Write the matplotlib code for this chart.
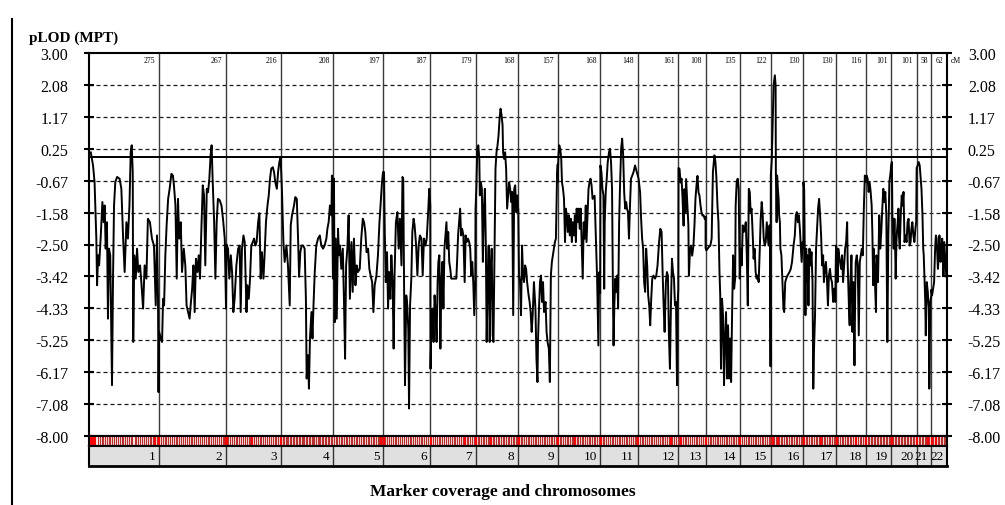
import numpy as np
import matplotlib.pyplot as plt
from matplotlib.lines import Line2D

plt.rcParams['font.family'] = ['Liberation Serif', 'DejaVu Serif']

# Chromosomes and their genetic lengths (cM)
chrom_names = [str(i) for i in range(1, 23)]
chrom_cm = [275, 267, 216, 208, 197, 187, 179, 168, 157, 168, 148,
            161, 108, 135, 122, 130, 130, 116, 101, 101, 58, 62]

# Multipoint LOD scan: position within chromosome (cM) and pLOD
pos_1 = [0, 7, 16, 22, 29, 32, 36, 40, 46, 53, 58, 62, 66, 71, 75, 79, 84, 91, 95, 99,
         104, 111, 121, 128, 135, 141, 148, 154, 160, 165, 169, 173, 175, 179, 185, 190,
         195, 202, 207, 214, 220, 227, 233, 241, 249, 257, 264, 269, 273, 275]
lod_1 = [0.11, 0.15, -0.23, -0.71, -2.33, -3.67, -2.81, -3.10, -2.33, -1.28, -1.86, -1.38,
         -2.62, -1.86, -4.63, -2.62, -2.81, -6.54, -3.48, -1.38, -0.71, -0.56, -0.61, -0.90,
         -2.33, -3.29, -1.86, -2.33, -1.38, 0.15, 0.35, -0.42, -5.30, -2.81, -3.48, -2.62,
         -3.29, -3.10, -3.58, -4.34, -3.10, -3.48, -1.76, -1.86, -2.33, -2.53, -4.25, -2.24,
         -4.06, -6.74]

pos_2 = [2, 9, 14, 18, 22, 27, 32, 38, 44, 51, 57, 61, 67, 72, 77, 82, 88, 93, 100, 106,
         111, 117, 123, 127, 133, 138, 143, 148, 154, 159, 164, 170, 175, 180, 185, 191,
         196, 201, 206, 210, 214, 220, 225, 230, 235, 242, 249, 255, 262, 267]
lod_2 = [-5.00, -5.20, -5.30, -4.06, -4.25, -2.81, -1.95, -1.19, -0.90, -0.47, -0.52, -0.80,
         -1.38, -3.48, -1.19, -2.33, -1.86, -3.29, -2.62, -3.10, -4.25, -4.44, -4.63, -4.25,
         -3.77, -3.10, -4.44, -2.91, -3.29, -2.81, -3.48, -1.95, -0.80, -1.09, -3.10, -0.90,
         -1.00, -0.61, 0.06, 0.35, -0.61, -1.86, -3.48, -1.86, -1.19, -1.23, -1.38, -1.76,
         -2.33, -4.34]

pos_3 = [2, 8, 13, 19, 24, 29, 34, 41, 48, 54, 58, 63, 69, 74, 81, 84, 90, 95, 100, 106,
         111, 116, 121, 127, 132, 137, 142, 148, 153, 158, 164, 169, 174, 179, 185, 190,
         195, 201, 206, 211, 216]
lod_3 = [-2.50, -2.62, -3.48, -2.81, -3.29, -4.44, -4.06, -3.10, -2.62, -2.53, -4.44, -2.62,
         -2.24, -2.43, -4.44, -3.67, -4.06, -3.48, -2.53, -2.43, -2.33, -2.53, -2.43, -1.86,
         -1.60, -3.48, -2.72, -3.48, -2.72, -1.86, -1.38, -1.09, -0.61, -0.32, -0.28, -0.42,
         -0.71, -0.90, -0.42, -0.13, 0.01]

pos_4 = [0, 5, 11, 16, 23, 29, 36, 40, 45, 53, 58, 64, 69, 73, 78, 83, 89, 95, 100, 103,
         108, 112, 116, 122, 126, 130, 135, 141, 148, 155, 161, 168, 174, 181, 185, 190,
         195, 201, 203, 207]
lod_4 = [0.00, -0.90, -2.43, -3.00, -2.53, -3.10, -4.25, -1.95, -1.66, -1.38, -1.14, -1.19,
         -2.33, -3.43, -2.72, -2.53, -2.53, -2.62, -4.06, -6.35, -5.68, -6.64, -5.20, -4.44,
         -5.20, -4.25, -3.29, -2.53, -2.33, -2.24, -2.53, -2.62, -2.53, -2.33, -2.05, -1.86,
         -1.38, -1.66, -0.52, -3.48]

pos_5 = [3, 6, 10, 14, 19, 23, 27, 32, 38, 43, 47, 51, 56, 61, 66, 72, 77, 82, 88, 93,
         98, 105, 111, 117, 122, 127, 132, 138, 143, 148, 154, 159, 164, 171, 177, 183,
         188, 193, 197]
lod_5 = [-0.61, -4.73, -2.33, -4.63, -2.05, -2.81, -2.53, -3.20, -2.62, -4.25, -5.78, -3.10,
         -2.62, -1.66, -4.06, -2.43, -3.86, -2.33, -3.67, -3.10, -3.29, -3.20, -2.33, -1.76,
         -1.86, -2.14, -2.72, -2.62, -3.20, -3.39, -3.58, -4.44, -3.67, -3.39, -2.81, -1.86,
         -1.28, -0.71, -0.42]

pos_6 = [4, 7, 11, 16, 20, 24, 29, 33, 38, 42, 46, 51, 57, 62, 67, 73, 77, 80, 84, 87,
         92, 96, 100, 103, 107, 112, 116, 121, 125, 131, 136, 141, 146, 152, 157, 162,
         168, 173, 178, 183, 187]
lod_6 = [-0.42, -2.14, -3.58, -2.72, -4.34, -3.29, -4.06, -2.81, -3.58, -5.49, -3.29, -1.86,
         -1.57, -2.62, -1.76, -3.10, -0.56, -0.61, -4.25, -6.54, -3.96, -4.25, -4.92, -7.21,
         -4.25, -3.48, -2.14, -1.76, -1.95, -2.53, -3.39, -2.53, -2.24, -2.33, -3.39, -2.33,
         -2.53, -2.33, -1.66, -0.90, -1.38]

pos_7 = [1, 5, 9, 13, 17, 21, 25, 29, 32, 36, 40, 44, 48, 52, 56, 60, 64, 67, 71, 75,
         79, 83, 92, 103, 106, 110, 114, 118, 122, 126, 131, 136, 140, 144, 149, 154,
         158, 162, 166, 170, 174, 178]
lod_7 = [-6.07, -4.53, -4.34, -5.30, -3.96, -4.44, -5.30, -3.58, -3.00, -2.81, -5.49, -3.58,
         -3.00, -4.34, -2.62, -2.24, -1.86, -2.62, -2.14, -3.00, -3.20, -3.48, -3.48, -3.48,
         -3.00, -2.24, -1.86, -1.47, -2.24, -2.05, -2.24, -3.58, -2.24, -2.43, -2.33, -2.43,
         -2.62, -3.39, -3.00, -3.58, -4.53, -3.58]

pos_8 = [0, 3, 7, 11, 15, 17, 21, 25, 29, 33, 37, 41, 44, 48, 52, 56, 60, 64, 68, 71,
         75, 79, 83, 87, 91, 95, 99, 103, 107, 109, 113, 117, 121, 125, 129, 133, 137,
         141, 145, 149, 153, 157, 161, 165, 168]
lod_8 = [-1.50, -0.90, 0.25, 0.35, -0.04, -1.09, -0.71, -0.90, -3.00, -1.47, -0.90, -2.62,
         -5.30, -3.58, -2.53, -5.30, -3.20, -2.62, -5.11, -5.30, -2.81, -0.32, 0.15, 0.35,
         0.63, 1.11, 1.40, 1.21, 0.92, 0.15, -0.04, 0.15, -0.32, -1.47, -1.09, -0.71, -0.90,
         -1.28, -0.99, -4.53, -0.90, -0.80, -1.57, -1.09, -1.47]

pos_9 = [1, 4, 8, 12, 16, 20, 24, 28, 32, 36, 42, 46, 50, 54, 58, 63, 69, 73, 77, 79,
         83, 87, 91, 95, 99, 103, 109, 113, 117, 122, 126, 130, 134, 138, 142, 146, 150,
         154, 157]
lod_9 = [-1.47, -3.39, -3.58, -4.53, -2.53, -3.39, -3.58, -3.10, -3.20, -3.58, -3.96, -4.15,
         -4.44, -5.01, -4.53, -3.58, -4.34, -5.78, -6.45, -5.30, -4.34, -3.58, -3.39, -4.15,
         -3.58, -4.44, -4.15, -5.01, -5.30, -5.49, -6.45, -3.39, -3.00, -2.81, -2.62, -2.43,
         -2.33, -0.71, -0.20]

pos_10 = [0, 3, 6, 10, 14, 17, 21, 25, 29, 32, 36, 40, 44, 48, 52, 56, 60, 64, 68, 72,
          75, 79, 83, 87, 91, 95, 99, 103, 107, 111, 114, 118, 122, 126, 130, 134, 138,
          146, 151, 156, 161, 164, 168]
lod_10 = [-0.71, 0.06, 0.35, 0.25, -0.04, -0.71, -0.90, -1.19, -2.43, -1.47, -1.66, -2.14,
          -1.66, -2.24, -1.76, -2.43, -1.86, -2.24, -1.66, -2.43, -1.47, -1.86, -1.47, -2.05,
          -1.47, -2.53, -3.48, -1.86, -2.33, -1.38, -2.43, -1.66, -0.90, -0.71, -0.61, -0.80,
          -1.19, -1.10, -2.34, -3.49, -5.40, -3.30, -3.90]

pos_11 = [1, 5, 9, 13, 16, 18, 22, 26, 30, 35, 39, 43, 47, 51, 53, 56, 60, 64, 68, 71,
          75, 79, 83, 87, 91, 95, 99, 103, 106, 110, 114, 118, 122, 127, 132, 138, 143, 148]
lod_11 = [-0.23, -0.42, -0.90, -1.09, -3.77, -1.86, -1.00, -0.61, -0.13, 0.15, 0.25, -0.13,
          -0.90, -4.25, -5.40, -4.25, -3.48, -3.86, -3.39, -4.34, -1.86, -0.71, 0.25, 0.54,
          0.06, -1.00, -1.47, -1.28, -1.47, -1.57, -2.33, -1.38, -0.61, -0.52, -0.42, -0.23,
          -0.37, -0.52]

pos_12 = [0, 4, 10, 14, 18, 22, 26, 30, 34, 38, 42, 46, 50, 54, 58, 63, 69, 74, 79, 85,
          90, 95, 99, 103, 107, 112, 116, 120, 124, 128, 132, 136, 140, 144, 148, 152, 156,
          158, 161]
lod_12 = [-0.52, -0.61, -1.00, -1.76, -2.33, -2.62, -3.58, -3.86, -2.62, -3.10, -3.96, -4.25,
          -4.82, -4.06, -3.48, -3.39, -3.48, -3.39, -3.10, -2.43, -2.05, -2.14, -3.29, -4.25,
          -5.01, -3.58, -3.29, -3.39, -5.11, -6.07, -4.25, -2.91, -3.29, -3.48, -4.25, -4.15,
          -6.54, -4.25, -3.80]

pos_13 = [1, 5, 9, 13, 17, 21, 24, 28, 31, 36, 40, 42, 46, 50, 55, 60, 64, 68, 72, 76,
          80, 84, 88, 92, 96, 100, 105, 108]
lod_13 = [-0.30, -0.33, -0.72, -0.61, -1.20, -1.96, -0.91, -1.58, -0.62, -1.39, -1.96, -3.40,
          -2.73, -2.53, -2.82, -2.53, -1.95, -1.19, -0.81, -0.53, -1.00, -1.10, -1.38, -1.58,
          -1.67, -1.66, -1.77, -1.70]

pos_14 = [0, 3, 8, 13, 19, 24, 29, 35, 39, 43, 47, 51, 55, 58, 61, 65, 69, 73, 77, 81,
          85, 89, 93, 97, 101, 105, 109, 113, 117, 119, 123, 127, 131, 135]
lod_14 = [-2.60, -2.67, -2.62, -2.57, -2.53, -2.33, -0.42, 0.06, -0.13, -0.61, -1.38, -1.86,
          -3.29, -3.96, -6.07, -4.06, -4.53, -6.54, -5.20, -4.44, -6.35, -4.82, -6.35, -5.20,
          -6.45, -4.44, -2.81, -3.77, -3.48, -1.38, -0.71, -0.61, -0.90, -3.48]

pos_15 = [0, 4, 8, 12, 16, 20, 24, 28, 32, 36, 40, 43, 47, 51, 55, 59, 63, 67, 71, 75,
          79, 83, 87, 91, 95, 99, 103, 107, 110, 114, 118, 120, 122]
lod_15 = [-3.48, -2.62, -3.10, -1.95, -2.14, -2.05, -1.86, -2.81, -4.25, -0.90, -1.00, -1.57,
          -1.47, -2.14, -2.91, -2.62, -3.29, -3.48, -3.39, -3.58, -2.72, -1.76, -1.28, -1.66,
          -2.33, -2.53, -2.43, -1.86, -2.14, -2.53, -1.95, -2.20, -6.00]

pos_16 = [1, 5, 9, 12, 15, 17, 20, 21, 24, 26, 29, 32, 34, 37, 39, 43, 47, 51, 54, 58,
          62, 67, 71, 75, 80, 85, 91, 96, 100, 104, 108, 112, 116, 120, 123, 127, 130]
lod_16 = [-0.52, -0.04, 1.21, 2.07, 2.26, 2.36, 2.07, -0.42, -1.86, -0.52, -0.90, -1.19,
          -1.66, -1.86, -2.62, -2.81, -3.58, -4.34, -4.44, -3.58, -3.48, -3.39, -3.34, -3.29,
          -3.20, -3.00, -2.53, -2.24, -1.66, -1.57, -1.86, -1.66, -2.05, -2.62, -3.00, -2.43,
          -2.60]

pos_17 = [0, 3, 5, 8, 11, 13, 16, 20, 24, 28, 32, 36, 39, 42, 46, 50, 54, 58, 62, 66,
          70, 74, 78, 81, 85, 89, 93, 97, 101, 105, 109, 113, 118, 122, 126, 129]
lod_17 = [-0.71, -0.90, -2.24, -4.53, -2.62, -3.58, -2.81, -4.25, -2.62, -3.10, -2.72, -3.58,
          -6.64, -5.49, -4.53, -2.62, -2.05, -1.47, -1.19, -1.66, -2.24, -3.10, -2.81, -3.58,
          -3.20, -3.00, -3.48, -4.25, -3.39, -3.20, -3.48, -3.58, -4.15, -3.77, -4.15, -2.53]

pos_18 = [0, 3, 5, 8, 11, 15, 19, 23, 27, 31, 35, 39, 43, 45, 48, 51, 53, 56, 60, 64,
          68, 72, 75, 77, 81, 85, 89, 93, 97, 101, 105, 109, 113, 116]
lod_18 = [-2.53, -2.81, -3.58, -2.62, -2.81, -3.00, -3.20, -2.81, -3.58, -3.10, -2.62, -2.43,
          -1.86, -3.00, -3.77, -4.53, -4.82, -3.58, -2.81, -5.01, -3.58, -5.97, -3.77, -3.00,
          -2.81, -3.10, -5.11, -3.00, -2.81, -2.62, -2.81, -1.47, -0.52, -0.71]

pos_19 = [0, 4, 8, 12, 16, 20, 24, 27, 30, 32, 35, 38, 41, 43, 46, 49, 51, 54, 58, 62,
          66, 70, 74, 78, 82, 86, 90, 94, 99, 101]
lod_19 = [-0.71, -0.52, -0.61, -0.99, -0.71, -0.99, -1.38, -2.24, -3.67, -2.62, -3.10, -3.77,
          -4.44, -2.81, -3.00, -3.58, -2.81, -1.66, -2.62, -2.14, -1.47, -0.90, -1.28, -0.99,
          -1.66, -5.30, -2.24, -0.71, -0.42, -0.23]

pos_20 = [0, 3, 5, 8, 10, 13, 16, 18, 21, 23, 26, 29, 31, 34, 38, 42, 45, 49, 53, 57,
          61, 65, 69, 73, 77, 80, 84, 88, 92, 96, 99]
lod_20 = [-0.23, -0.13, -1.66, -2.24, -2.62, -1.76, -2.62, -3.48, -2.43, -2.14, -1.86, -1.47,
          -2.24, -2.62, -1.66, -1.09, -1.38, -0.99, -2.43, -2.24, -2.43, -1.86, -1.76, -2.53,
          -2.43, -2.05, -1.86, -2.24, -2.43, -2.05, -1.86]

pos_21 = [0, 4, 8, 12, 16, 19, 23, 26, 28, 31, 34, 36, 40, 44, 48, 50, 54, 58]
lod_21 = [-0.30, -0.23, -0.13, -0.23, -0.61, -0.90, -1.66, -2.62, -2.81, -3.48, -4.15, -5.11,
          -3.58, -3.86, -4.34, -6.64, -4.15, -3.96]

pos_22 = [0, 3, 7, 11, 15, 18, 21, 24, 26, 29, 32, 35, 37, 40, 43, 46, 48, 51, 54, 57,
          59, 62]
lod_22 = [-3.80, -3.96, -3.77, -3.58, -2.62, -2.24, -2.33, -2.81, -3.20, -2.91, -2.24, -2.81,
          -3.00, -2.62, -2.33, -3.00, -3.39, -2.43, -2.81, -3.20, -3.39, -3.48]

scan_pos = [pos_1, pos_2, pos_3, pos_4, pos_5, pos_6, pos_7, pos_8, pos_9, pos_10, pos_11,
            pos_12, pos_13, pos_14, pos_15, pos_16, pos_17, pos_18, pos_19, pos_20, pos_21,
            pos_22]
scan_lod = [lod_1, lod_2, lod_3, lod_4, lod_5, lod_6, lod_7, lod_8, lod_9, lod_10, lod_11,
            lod_12, lod_13, lod_14, lod_15, lod_16, lod_17, lod_18, lod_19, lod_20, lod_21,
            lod_22]

# Genotyped marker positions (cM within chromosome)
mk_1 = [3, 7, 12, 18, 24, 35, 44, 52, 57, 63, 71, 79, 84, 92, 100, 107, 113, 121, 130, 136,
        143, 151, 158, 166, 172, 180, 187, 195, 203, 210, 218, 226, 232, 240, 247, 255, 262,
        270]
mk_2 = [2, 10, 17, 25, 31, 38, 46, 52, 60, 68, 75, 81, 90, 97, 104, 111, 119, 127, 133, 141,
        149, 156, 163, 171, 178, 186, 194, 201, 209, 216, 224, 231, 239, 247, 254, 260, 265]
mk_3 = [3, 9, 16, 24, 30, 38, 45, 53, 60, 66, 74, 82, 89, 96, 104, 110, 118, 126, 133, 140,
        148, 155, 162, 170, 177, 185, 192, 199, 207, 213]
mk_4 = [2, 8, 14, 20, 25, 31, 37, 42, 48, 54, 60, 65, 71, 77, 83, 88, 94, 100, 106, 111,
        117, 123, 129, 134, 140, 146, 152, 157, 163, 169, 175, 180, 186, 192, 198, 204]
mk_5 = [3, 10, 16, 23, 30, 36, 43, 50, 56, 63, 70, 76, 83, 90, 96, 103, 110, 116, 123, 130,
        136, 143, 150, 156, 163, 170, 176, 183, 190, 195]
mk_6 = [2, 9, 17, 24, 31, 39, 46, 53, 61, 68, 75, 83, 90, 97, 105, 112, 119, 127, 134, 141,
        149, 156, 163, 171, 178, 185]
mk_7 = [3, 10, 18, 25, 33, 40, 47, 55, 62, 70, 77, 84, 92, 99, 107, 114, 121, 129, 136, 144,
        151, 158, 166, 173, 178]
mk_8 = [2, 8, 15, 21, 28, 35, 41, 48, 54, 61, 68, 74, 81, 87, 94, 101, 107, 114, 120, 127,
        134, 140, 147, 153, 160, 166]
mk_9 = [3, 10, 17, 24, 31, 38, 45, 52, 59, 66, 73, 80, 87, 94, 101, 108, 115, 122, 129, 136,
        143, 150, 155]
mk_10 = [2, 9, 15, 22, 29, 35, 42, 49, 55, 62, 69, 75, 82, 89, 95, 102, 109, 115, 122, 129,
         135, 142, 149, 155, 162, 167]
mk_11 = [3, 10, 17, 24, 31, 38, 45, 52, 59, 66, 73, 80, 87, 94, 101, 108, 115, 122, 129, 136,
         143, 147]
mk_12 = [2, 9, 16, 23, 30, 38, 45, 52, 59, 66, 73, 81, 88, 95, 102, 109, 116, 124, 131, 138,
         145, 152, 159]
mk_13 = [3, 10, 17, 25, 32, 39, 47, 54, 61, 69, 76, 83, 91, 98, 106]
mk_14 = [2, 9, 16, 23, 30, 37, 44, 51, 58, 65, 72, 79, 86, 93, 100, 107, 114, 121, 128, 134]
mk_15 = [3, 10, 17, 24, 31, 38, 45, 52, 59, 66, 73, 80, 87, 94, 101, 108, 115, 121]
mk_16 = [2, 8, 15, 21, 28, 34, 41, 47, 54, 60, 67, 73, 80, 86, 93, 99, 106, 112, 119, 125,
         129]
mk_17 = [3, 9, 16, 22, 29, 35, 42, 48, 55, 61, 68, 74, 81, 87, 94, 100, 107, 113, 120, 126,
         129]
mk_18 = [2, 8, 15, 21, 28, 34, 41, 47, 54, 60, 67, 73, 80, 86, 93, 99, 106, 112, 115]
mk_19 = [2, 8, 14, 20, 26, 32, 38, 44, 50, 56, 62, 68, 74, 80, 86, 92, 98, 100]
mk_20 = [2, 8, 14, 20, 26, 32, 38, 44, 50, 56, 62, 68, 74, 80, 86, 92, 98]
mk_21 = [2, 8, 14, 20, 26, 32, 38, 44, 50, 56]
mk_22 = [2, 8, 14, 20, 26, 32, 38, 44, 50, 56, 61]

markers = [mk_1, mk_2, mk_3, mk_4, mk_5, mk_6, mk_7, mk_8, mk_9, mk_10, mk_11, mk_12,
           mk_13, mk_14, mk_15, mk_16, mk_17, mk_18, mk_19, mk_20, mk_21, mk_22]

# highlighted markers: (chromosome, cM)
mk_flag = [(1, 3), (1, 7), (1, 12), (1, 18), (1, 24), (1, 262), (2, 2), (2, 265), (3, 3),
           (3, 104), (4, 2), (5, 190), (6, 2), (7, 3), (7, 136), (8, 2), (8, 61), (9, 3),
           (10, 2), (10, 69), (11, 3), (12, 2), (12, 131), (13, 10), (14, 2), (15, 3),
           (16, 8), (16, 28), (17, 3), (17, 68), (18, 2), (18, 80), (19, 2), (20, 2),
           (21, 2), (21, 44), (22, 2), (22, 20)]

y_ticks = 3 - np.arange(13) * 11 / 12
y_labels = ['3.00', '2.08', '1.17', '0.25', '-0.67', '-1.58', '-2.50', '-3.42',
            '-4.33', '-5.25', '-6.17', '-7.08', '-8.00']
threshold = 0.0

# ---------------------------------------------------------------
W, H = 1005, 506


def box(x0, y0, x1, y1):
    """pixel rectangle (top-left origin) -> figure fraction rect"""
    return [x0 / W, 1 - y1 / H, (x1 - x0) / W, (y1 - y0) / H]


ends = np.cumsum(chrom_cm)
starts = ends - np.array(chrom_cm)
total = ends[-1]

x = np.concatenate([s + np.asarray(p, float) for s, p in zip(starts, scan_pos)])
y = np.concatenate([np.asarray(v, float) for v in scan_lod])
mk_x = np.concatenate([s + np.asarray(m, float) for s, m in zip(starts, markers)])
flag_x = np.array([starts[c - 1] + p for c, p in mk_flag])

fig = plt.figure(figsize=(W / 100, H / 100), dpi=100)

ax = fig.add_axes(box(89, 54, 947, 437))
ax_mk = fig.add_axes(box(89, 437, 947, 447), sharex=ax)
ax_ch = fig.add_axes(box(89, 447, 947, 467), sharex=ax)

# main LOD panel
ax.set_xlim(0, total)
ax.set_ylim(-8, 3)
for yt in y_ticks[1:-1]:
    ax.axhline(yt, color='#1a1a1a', lw=0.9, ls=(0, (3.2, 2.4)), zorder=1)
for e in ends[:-1]:
    ax.axvline(e, color='#3a3a3a', lw=1.0, zorder=1)
ax.axhline(threshold, color='black', lw=1.4, zorder=2)
ax.plot(x, y, color='black', lw=1.4, zorder=3)

ax.set_yticks(y_ticks, y_labels)
ax.tick_params(axis='y', direction='inout', length=7, width=1.5, labelsize=11.5,
               left=True, right=True, labelleft=True, labelright=True, pad=11.5)
ax.tick_params(axis='x', bottom=False, labelbottom=False)
for side in ['left', 'right', 'top', 'bottom']:
    ax.spines[side].set_linewidth(1.5)

for e, L in zip(ends, chrom_cm):
    ax.annotate(str(L), xy=(e, 3), xytext=(-2.5, -2.5), textcoords='offset points',
                ha='right', va='top', fontsize=5.5)
ax.annotate('cM', xy=(total, 3), xytext=(2.5, -2.5), textcoords='offset points',
            ha='left', va='top', fontsize=5.5)

# marker strip
ax_mk.set_ylim(0, 1)
ax_mk.vlines(mk_x, 0, 1, color='#b8302e', lw=0.9)
ax_mk.vlines(flag_x, 0, 1, color='#ff0000', lw=1.5)
ax_mk.tick_params(left=False, bottom=False, labelleft=False, labelbottom=False)
for side in ['left', 'right', 'top', 'bottom']:
    ax_mk.spines[side].set_linewidth(1.5)

# chromosome band
ax_ch.set_facecolor('#e0e0e0')
ax_ch.set_ylim(0, 1)
for e in ends[:-1]:
    ax_ch.axvline(e, color='#333333', lw=1.0)
for e, name in zip(ends, chrom_names):
    ax_ch.annotate(name, xy=(e, 0.5), xytext=(-2.5, 0), textcoords='offset points',
                   ha='right', va='center', fontsize=9.5)
ax_ch.tick_params(left=False, bottom=False, labelleft=False, labelbottom=False)
for side in ['left', 'right', 'top', 'bottom']:
    ax_ch.spines[side].set_linewidth(1.5)
ax_ch.spines['bottom'].set_linewidth(2.0)

fig.text(29 / W, 1 - 38 / H, 'pLOD (MPT)', fontsize=11, fontweight='bold',
         ha='left', va='center')
fig.text(503 / W, 1 - 492 / H, 'Marker coverage and chromosomes', fontsize=12.5,
         fontweight='bold', ha='center', va='center')

fig.add_artist(Line2D([12 / W, 12 / W], [0, 1 - 20 / H], transform=fig.transFigure,
                      color='black', lw=1.5))

fig.savefig('out.png', dpi=100)
